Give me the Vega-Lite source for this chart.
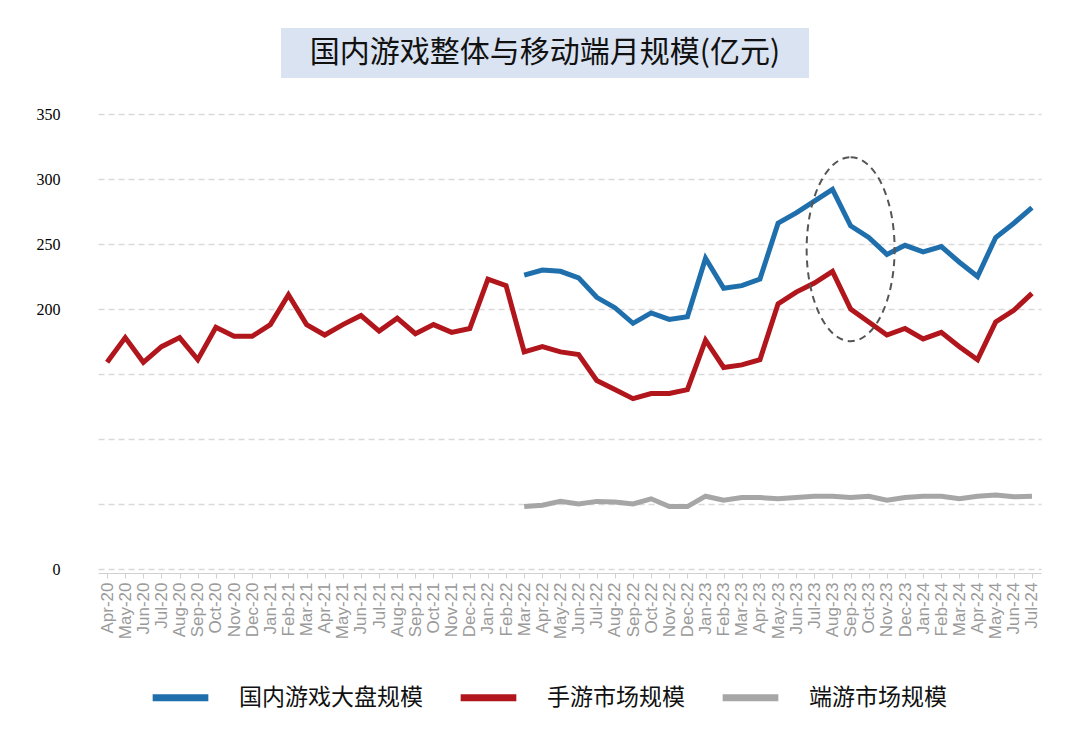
{
  "$schema": "https://vega.github.io/schema/vega-lite/v6.json",
  "background": "white",
  "padding": {"left": 36, "top": 28, "right": 28, "bottom": 10},
  "bounds": "full",
  "center": true,
  "spacing": 28,
  "config": {"view": {"stroke": null}, "font": "Noto Sans CJK SC"},
  "vconcat": [
    {
      "spacing": 0,
      "hconcat": [
        {
          "width": 528,
          "height": 50,
          "view": {"fill": "#dae3f1", "stroke": null},
          "data": {"values": [{"t": "国内游戏整体与移动端月规模(亿元)"}]},
          "mark": {"type": "text", "fontSize": 30, "font": "Noto Sans CJK SC", "color": "#111111"},
          "encoding": {"text": {"field": "t"}}
        },
        {
          "width": 50,
          "height": 50,
          "data": {"values": [{"t": ""}]},
          "mark": {"type": "text"},
          "encoding": {"text": {"field": "t"}}
        }
      ]
    },
    {
      "width": 943,
      "height": 455,
      "encoding": {
        "x": {
          "field": "m",
          "type": "ordinal",
          "scale": {"type": "point", "padding": 0.5, "domain": ["Apr-20","May-20","Jun-20","Jul-20","Aug-20","Sep-20","Oct-20","Nov-20","Dec-20","Jan-21","Feb-21","Mar-21","Apr-21","May-21","Jun-21","Jul-21","Aug-21","Sep-21","Oct-21","Nov-21","Dec-21","Jan-22","Feb-22","Mar-22","Apr-22","May-22","Jun-22","Jul-22","Aug-22","Sep-22","Oct-22","Nov-22","Dec-22","Jan-23","Feb-23","Mar-23","Apr-23","May-23","Jun-23","Jul-23","Aug-23","Sep-23","Oct-23","Nov-23","Dec-23","Jan-24","Feb-24","Mar-24","Apr-24","May-24","Jun-24","Jul-24"]},
          "axis": {"title": null, "labelAngle": -90, "labelFontSize": 17, "labelColor": "#9a9a9a", "labelFont": "Liberation Sans", "labelPadding": 4, "labelOverlap": false, "domainColor": "#d0d0d0", "tickColor": "#d0d0d0", "tickSize": 5, "offset": 4, "grid": false}
        },
        "y": {
          "field": "v",
          "type": "quantitative",
          "scale": {"domain": [0, 350], "nice": false},
          "axis": {"title": null, "values": [0,50,100,150,200,250,300,350], "labelExpr": "datum.value==50||datum.value==100||datum.value==150 ? '' : datum.label", "labelFont": "Liberation Serif", "labelFontSize": 16, "labelColor": "#000000", "labelPadding": 38, "ticks": false, "domain": false, "gridColor": "#d9d9d9", "gridDash": [6, 4], "gridWidth": 1.5}
        }
      },
      "layer": [
        {
          "data": {"values": [
            {"m":"Apr-20","s":"手游市场规模","v":159},{"m":"May-20","s":"手游市场规模","v":178},{"m":"Jun-20","s":"手游市场规模","v":159},{"m":"Jul-20","s":"手游市场规模","v":171},{"m":"Aug-20","s":"手游市场规模","v":178},{"m":"Sep-20","s":"手游市场规模","v":161},{"m":"Oct-20","s":"手游市场规模","v":186},{"m":"Nov-20","s":"手游市场规模","v":179},{"m":"Dec-20","s":"手游市场规模","v":179},
            {"m":"Jan-21","s":"手游市场规模","v":188},{"m":"Feb-21","s":"手游市场规模","v":211},{"m":"Mar-21","s":"手游市场规模","v":188},{"m":"Apr-21","s":"手游市场规模","v":180},{"m":"May-21","s":"手游市场规模","v":188},{"m":"Jun-21","s":"手游市场规模","v":195},{"m":"Jul-21","s":"手游市场规模","v":183},{"m":"Aug-21","s":"手游市场规模","v":193},{"m":"Sep-21","s":"手游市场规模","v":181},{"m":"Oct-21","s":"手游市场规模","v":188},{"m":"Nov-21","s":"手游市场规模","v":182},{"m":"Dec-21","s":"手游市场规模","v":185},
            {"m":"Jan-22","s":"手游市场规模","v":223},{"m":"Feb-22","s":"手游市场规模","v":218},{"m":"Mar-22","s":"手游市场规模","v":167},{"m":"Apr-22","s":"手游市场规模","v":171},{"m":"May-22","s":"手游市场规模","v":167},{"m":"Jun-22","s":"手游市场规模","v":165},{"m":"Jul-22","s":"手游市场规模","v":145},{"m":"Aug-22","s":"手游市场规模","v":138},{"m":"Sep-22","s":"手游市场规模","v":131},{"m":"Oct-22","s":"手游市场规模","v":135},{"m":"Nov-22","s":"手游市场规模","v":135},{"m":"Dec-22","s":"手游市场规模","v":138},
            {"m":"Jan-23","s":"手游市场规模","v":176},{"m":"Feb-23","s":"手游市场规模","v":155},{"m":"Mar-23","s":"手游市场规模","v":157},{"m":"Apr-23","s":"手游市场规模","v":161},{"m":"May-23","s":"手游市场规模","v":204},{"m":"Jun-23","s":"手游市场规模","v":213},{"m":"Jul-23","s":"手游市场规模","v":220},{"m":"Aug-23","s":"手游市场规模","v":229},{"m":"Sep-23","s":"手游市场规模","v":200},{"m":"Oct-23","s":"手游市场规模","v":190},{"m":"Nov-23","s":"手游市场规模","v":180},{"m":"Dec-23","s":"手游市场规模","v":185},
            {"m":"Jan-24","s":"手游市场规模","v":177},{"m":"Feb-24","s":"手游市场规模","v":182},{"m":"Mar-24","s":"手游市场规模","v":171},{"m":"Apr-24","s":"手游市场规模","v":161},{"m":"May-24","s":"手游市场规模","v":190},{"m":"Jun-24","s":"手游市场规模","v":199},{"m":"Jul-24","s":"手游市场规模","v":212},
            {"m":"Mar-22","s":"国内游戏大盘规模","v":226},{"m":"Apr-22","s":"国内游戏大盘规模","v":230},{"m":"May-22","s":"国内游戏大盘规模","v":229},{"m":"Jun-22","s":"国内游戏大盘规模","v":224},{"m":"Jul-22","s":"国内游戏大盘规模","v":209},{"m":"Aug-22","s":"国内游戏大盘规模","v":201},{"m":"Sep-22","s":"国内游戏大盘规模","v":189},{"m":"Oct-22","s":"国内游戏大盘规模","v":197},{"m":"Nov-22","s":"国内游戏大盘规模","v":192},{"m":"Dec-22","s":"国内游戏大盘规模","v":194},
            {"m":"Jan-23","s":"国内游戏大盘规模","v":239},{"m":"Feb-23","s":"国内游戏大盘规模","v":216},{"m":"Mar-23","s":"国内游戏大盘规模","v":218},{"m":"Apr-23","s":"国内游戏大盘规模","v":223},{"m":"May-23","s":"国内游戏大盘规模","v":266},{"m":"Jun-23","s":"国内游戏大盘规模","v":274},{"m":"Jul-23","s":"国内游戏大盘规模","v":283},{"m":"Aug-23","s":"国内游戏大盘规模","v":292},{"m":"Sep-23","s":"国内游戏大盘规模","v":264},{"m":"Oct-23","s":"国内游戏大盘规模","v":255},{"m":"Nov-23","s":"国内游戏大盘规模","v":242},{"m":"Dec-23","s":"国内游戏大盘规模","v":249},
            {"m":"Jan-24","s":"国内游戏大盘规模","v":244},{"m":"Feb-24","s":"国内游戏大盘规模","v":248},{"m":"Mar-24","s":"国内游戏大盘规模","v":236},{"m":"Apr-24","s":"国内游戏大盘规模","v":225},{"m":"May-24","s":"国内游戏大盘规模","v":255},{"m":"Jun-24","s":"国内游戏大盘规模","v":266},{"m":"Jul-24","s":"国内游戏大盘规模","v":278},
            {"m":"Mar-22","s":"端游市场规模","v":48},{"m":"Apr-22","s":"端游市场规模","v":49},{"m":"May-22","s":"端游市场规模","v":52},{"m":"Jun-22","s":"端游市场规模","v":50},{"m":"Jul-22","s":"端游市场规模","v":52},{"m":"Aug-22","s":"端游市场规模","v":51.5},{"m":"Sep-22","s":"端游市场规模","v":50},{"m":"Oct-22","s":"端游市场规模","v":54},{"m":"Nov-22","s":"端游市场规模","v":48},{"m":"Dec-22","s":"端游市场规模","v":48},
            {"m":"Jan-23","s":"端游市场规模","v":56},{"m":"Feb-23","s":"端游市场规模","v":53},{"m":"Mar-23","s":"端游市场规模","v":55},{"m":"Apr-23","s":"端游市场规模","v":55},{"m":"May-23","s":"端游市场规模","v":54},{"m":"Jun-23","s":"端游市场规模","v":55},{"m":"Jul-23","s":"端游市场规模","v":56},{"m":"Aug-23","s":"端游市场规模","v":56},{"m":"Sep-23","s":"端游市场规模","v":55},{"m":"Oct-23","s":"端游市场规模","v":56},{"m":"Nov-23","s":"端游市场规模","v":53},{"m":"Dec-23","s":"端游市场规模","v":55},
            {"m":"Jan-24","s":"端游市场规模","v":56},{"m":"Feb-24","s":"端游市场规模","v":56},{"m":"Mar-24","s":"端游市场规模","v":54},{"m":"Apr-24","s":"端游市场规模","v":56},{"m":"May-24","s":"端游市场规模","v":57},{"m":"Jun-24","s":"端游市场规模","v":55.5},{"m":"Jul-24","s":"端游市场规模","v":56}
          ]},
          "mark": {"type": "line", "strokeWidth": 5},
          "encoding": {
            "color": {
              "field": "s",
              "type": "nominal",
              "scale": {"domain": ["国内游戏大盘规模", "手游市场规模", "端游市场规模"], "range": ["#1f6fad", "#b0161b", "#a6a6a6"]},
              "legend": {"orient": "bottom", "direction": "horizontal", "title": null, "symbolType": "stroke", "symbolStrokeWidth": 7, "symbolSize": 3100, "labelFontSize": 23, "labelFont": "Noto Sans CJK SC", "labelColor": "#111111", "labelOffset": 27, "labelLimit": 400, "columnPadding": 23, "padding": 51, "offset": -24}
            }
          }
        },
        {
          "data": {"values": [{"m": "Sep-23", "v": 246}]},
          "mark": {"type": "point", "shape": "M0,-1A0.478,1 0 1,1 0,1A0.478,1 0 1,1 0,-1Z", "size": 33856, "filled": false, "stroke": "#555555", "strokeWidth": 2, "strokeDash": [7, 5], "opacity": 1}
        }
      ]
    }
  ]
}
